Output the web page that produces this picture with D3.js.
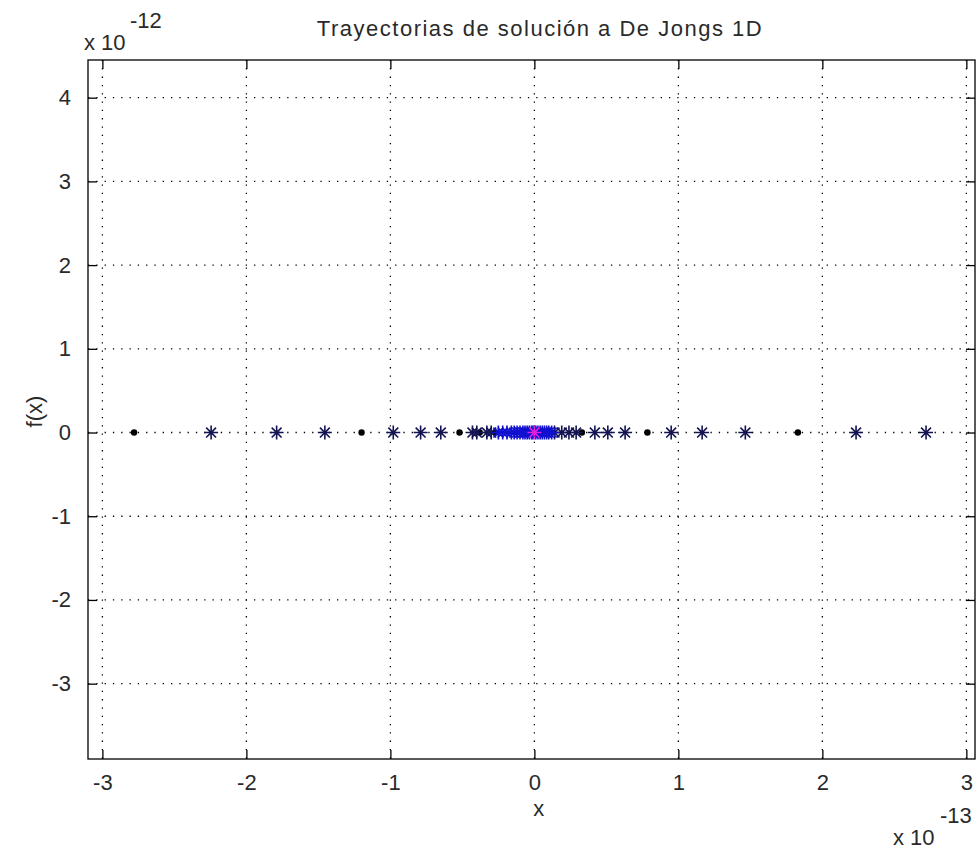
<!DOCTYPE html>
<html>
<head>
<meta charset="utf-8">
<script src="https://cdn.jsdelivr.net/npm/d3@7"></script>
<style>
  body { margin: 0; background: #fff; }
  text { font-family: "Liberation Sans", Arial, sans-serif; fill: #2a2a2a; }
</style>
</head>
<body>
<div id="plot"></div>
<script>
// values in units of 1e-13 (x) and 1e-12 (y)
var xTicks = [-3, -2, -1, 0, 1, 2, 3];
var yTicks = [-3, -2, -1, 0, 1, 2, 3, 4];

// black dots of the trajectory
var dotX = [-2.78, -1.20, -0.52, -0.38, -0.27, 0.33, 0.785, 1.83];
// dark navy stars
var starX = [-2.245, -1.79, -1.455, -0.98, -0.79, -0.65, -0.43, -0.40, -0.33, -0.30,
             0.14, 0.19, 0.24, 0.29, 0.42, 0.51, 0.63, 0.95, 1.165, 1.465, 2.234, 2.72];
// blue stars close to the optimum
var blueX = [-0.25, -0.22, -0.19, -0.16, -0.14, -0.12, -0.10, -0.08, -0.065, -0.05, -0.035,
             -0.02, -0.01, 0.01, 0.025, 0.04, 0.055, 0.07, 0.085, 0.10, 0.12];
// final point
var bestX = [0.0];

var width = 979, height = 851;
var margin = {top: 60, right: 4, bottom: 92, left: 88};
var dwidth = width - margin.left - margin.right,
    dheight = height - margin.top - margin.bottom;

var fs = "22px";

var svg = d3.select("#plot").append("svg")
    .attr("width", width)
    .attr("height", height);

svg.append("rect").attr("width", width).attr("height", height).attr("fill", "#fff");

var plot = svg.append("g")
    .attr("transform", "translate(" + margin.left + "," + margin.top + ")");

var x = d3.scaleLinear().domain([-3.1, 3.06]).range([0, dwidth]);
var y = d3.scaleLinear().domain([-3.9, 4.45]).range([dheight, 0]);

var fmt = function(d) { return String(d); };

// grid
plot.selectAll(".gx").data(xTicks).enter().append("line")
    .attr("x1", function(d) { return x(d); })
    .attr("x2", function(d) { return x(d); })
    .attr("y1", 0).attr("y2", dheight)
    .attr("stroke", "#000").attr("stroke-width", 1.3)
    .attr("stroke-dasharray", "1.3,7");

plot.selectAll(".gy").data(yTicks).enter().append("line")
    .attr("y1", function(d) { return y(d); })
    .attr("y2", function(d) { return y(d); })
    .attr("x1", 0).attr("x2", dwidth)
    .attr("stroke", "#000").attr("stroke-width", 1.3)
    .attr("stroke-dasharray", "1.3,7");

// axes (ticks inward on all sides)
var tk = 9;
plot.append("g")
    .attr("transform", "translate(0," + dheight + ")")
    .call(d3.axisBottom(x).tickValues(xTicks).tickFormat(fmt).tickSizeInner(-tk).tickSizeOuter(0).tickPadding(15));
plot.append("g")
    .call(d3.axisTop(x).tickValues(xTicks).tickSizeInner(-tk).tickSizeOuter(0).tickFormat(""));
plot.append("g")
    .call(d3.axisLeft(y).tickValues(yTicks).tickFormat(fmt).tickSizeInner(-tk).tickSizeOuter(0).tickPadding(17));
plot.append("g")
    .attr("transform", "translate(" + dwidth + ",0)")
    .call(d3.axisRight(y).tickValues(yTicks).tickSizeInner(-tk).tickSizeOuter(0).tickFormat(""));

plot.selectAll(".domain").remove();
plot.selectAll(".tick line").attr("stroke", "#000").attr("stroke-width", 1.3);
plot.selectAll(".tick text")
    .style("font-size", fs)
    .attr("font-family", "Liberation Sans, Arial, sans-serif")
    .attr("fill", "#2a2a2a");

plot.append("rect")
    .attr("width", dwidth).attr("height", dheight)
    .attr("fill", "none").attr("stroke", "#000").attr("stroke-width", 1.3);

// markers
var starPath = function(r) {
    var a = r * 0.7071;
    return "M" + (-r) + ",0L" + r + ",0M0," + (-r) + "L0," + r +
           "M" + (-a) + "," + (-a) + "L" + a + "," + a +
           "M" + (-a) + "," + a + "L" + a + "," + (-a);
};

plot.selectAll(".dot").data(dotX).enter().append("circle")
    .attr("cx", function(d) { return x(d); })
    .attr("cy", y(0))
    .attr("r", 3.2)
    .attr("fill", "#000");

plot.selectAll(".star").data(starX).enter().append("path")
    .attr("transform", function(d) { return "translate(" + x(d) + "," + y(0) + ")"; })
    .attr("d", starPath(7))
    .attr("fill", "none").attr("stroke", "#141452").attr("stroke-width", 1.6);

plot.selectAll(".blue").data(blueX).enter().append("path")
    .attr("transform", function(d) { return "translate(" + x(d) + "," + y(0) + ")"; })
    .attr("d", starPath(7))
    .attr("fill", "none").attr("stroke", "#1010d0").attr("stroke-width", 1.6);

plot.selectAll(".best").data(bestX).enter().append("path")
    .attr("transform", function(d) { return "translate(" + x(d) + "," + y(0) + ")"; })
    .attr("d", starPath(7))
    .attr("fill", "none").attr("stroke", "#e020e0").attr("stroke-width", 1.6);

// labels
svg.append("text")
    .attr("x", 540).attr("y", 36)
    .attr("text-anchor", "middle")
    .style("font-size", fs)
    .style("letter-spacing", "1.5px")
    .text("Trayectorias de solución a De Jongs 1D");

svg.append("text")
    .attr("x", 84).attr("y", 50)
    .style("font-size", fs)
    .text("x 10");
svg.append("text")
    .attr("x", 130).attr("y", 28)
    .style("font-size", fs)
    .text("-12");

svg.append("text")
    .attr("transform", "translate(42," + (margin.top + y(0.25)) + ") rotate(-90)")
    .attr("text-anchor", "middle")
    .style("font-size", fs)
    .text("f(x)");

svg.append("text")
    .attr("x", margin.left + x(0.03)).attr("y", height - 35)
    .attr("text-anchor", "middle")
    .style("font-size", fs)
    .text("x");

svg.append("text")
    .attr("x", 893).attr("y", height - 6)
    .style("font-size", fs)
    .text("x 10");
svg.append("text")
    .attr("x", 940).attr("y", height - 28)
    .style("font-size", fs)
    .text("-13");
</script>
</body>
</html>
